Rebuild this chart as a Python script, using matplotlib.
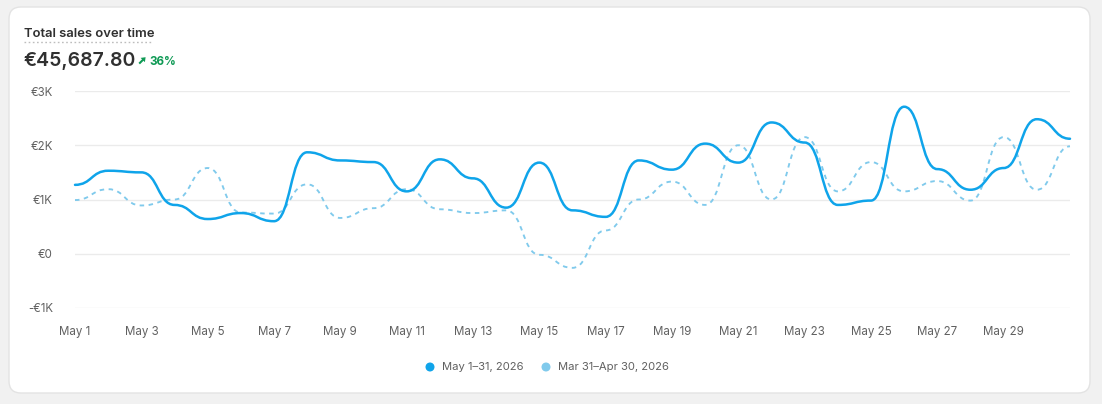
import numpy as np
import matplotlib
matplotlib.use("Agg")
import matplotlib.pyplot as plt
from matplotlib.patches import FancyBboxPatch, Circle, PathPatch, Polygon
from matplotlib.path import Path

plt.rcParams['font.family'] = ['Inter', 'DejaVu Sans']

# ---------------- data ----------------
days = list(range(1, 32))
current = [1270, 1530, 1500, 900, 640, 750, 600, 1870, 1720, 1690,
           1150, 1740, 1390, 850, 1680, 800, 680, 1720, 1550, 2030,
           1680, 2420, 2050, 900, 980, 2710, 1560, 1180, 1580, 2480, 2120]
previous = [990, 1190, 890, 1000, 1580, 760, 740, 1280, 660, 840,
            1190, 820, 750, 800, -20, -260, 430, 1000, 1330, 900,
            2000, 1000, 2150, 1150, 1690, 1150, 1340, 980, 2150, 1180, 1980]
tick_days = list(range(1, 31, 2))
tick_labels = [f"May {d}" for d in tick_days]
y_ticks = [-1000, 0, 1000, 2000, 3000]
y_labels = ["-€1K", "€0", "€1K", "€2K", "€3K"]
series_labels = ["May 1–31, 2026", "Mar 31–Apr 30, 2026"]
title = "Total sales over time"
total = "€45,687.80"
change = "36%"

C_CUR = '#0fa4ea'
C_PREV = '#80caec'
GREEN = '#0f9a55'
W, H = 1102, 404


def bump_x_path(x, y):
    """Bump-X curve: cubic Béziers with horizontal tangents at each data point."""
    verts = [(x[0], y[0])]
    codes = [Path.MOVETO]
    for i in range(len(x) - 1):
        xm = (x[i] + x[i + 1]) / 2
        verts += [(xm, y[i]), (xm, y[i + 1]), (x[i + 1], y[i + 1])]
        codes += [Path.CURVE4] * 3
    return Path(verts, codes)


fig = plt.figure(figsize=(W / 100, H / 100), dpi=100)
fig.patch.set_facecolor('#f1f1f1')

# background / card axes in pixel coordinates
bg = fig.add_axes([0, 0, 1, 1])
bg.set_xlim(0, W); bg.set_ylim(H, 0); bg.axis('off')
bg.add_patch(FancyBboxPatch((9, 7), 1081, 386, boxstyle="round,pad=0,rounding_size=12",
                            fc='white', ec='#e3e3e3', lw=1.0))

bg.text(24, 37, title, fontsize=9.4, fontweight='semibold', color='#303030', va='baseline')
bg.plot([24, 153], [41.5, 41.5], color='#bdbdbd', lw=1.0, ls=(0, (1.2, 1.8)))
bg.text(23.5, 66, total, fontsize=14.0, fontweight='semibold', color='#303030', va='baseline')
# small up-right arrow icon
bg.plot([139.2, 143.6], [63.6, 59.2], color=GREEN, lw=1.5, solid_capstyle='butt')
bg.add_patch(Polygon([(145.6, 57.2), (140.6, 57.9), (144.9, 62.2)], closed=True, color=GREEN, lw=0))
bg.text(149, 65, change, fontsize=8.4, fontweight='bold', color=GREEN, va='baseline')

# legend
for (cx, tx, col, lab) in [(430, 442, C_CUR, series_labels[0]), (546, 558, C_PREV, series_labels[1])]:
    bg.add_patch(Circle((cx, 367), 3.8, color=col))
    bg.text(tx, 367.5, lab, fontsize=8.1, color='#616161', va='center')

# chart axes
ax = fig.add_axes([75 / W, 1 - 308 / H, (1070 - 75) / W, (308 - 91) / H])
ax.patch.set_alpha(0)
ax.set_xlim(1, 31)
ax.set_ylim(-1000, 3000)
for sp in ax.spines.values():
    sp.set_visible(False)
ax.set_yticks(y_ticks)
ax.set_yticklabels(y_labels)
ax.set_xticks(tick_days)
ax.set_xticklabels(tick_labels)
ax.tick_params(axis='both', length=0, labelsize=8.3, labelcolor='#616161')
ax.tick_params(axis='y', pad=16)
ax.tick_params(axis='x', pad=13)
ax.grid(axis='y', color='#ebebeb', lw=1.0)
ax.set_axisbelow(True)

ax.add_patch(PathPatch(bump_x_path(days, previous), fill=False, ec=C_PREV, lw=1.35,
                       ls=(0, (2.4, 2.4)), clip_on=False))
ax.add_patch(PathPatch(bump_x_path(days, current), fill=False, ec=C_CUR, lw=1.8,
                       clip_on=False, capstyle='round', joinstyle='round'))

fig.savefig('out.png', dpi=100, facecolor=fig.get_facecolor())
